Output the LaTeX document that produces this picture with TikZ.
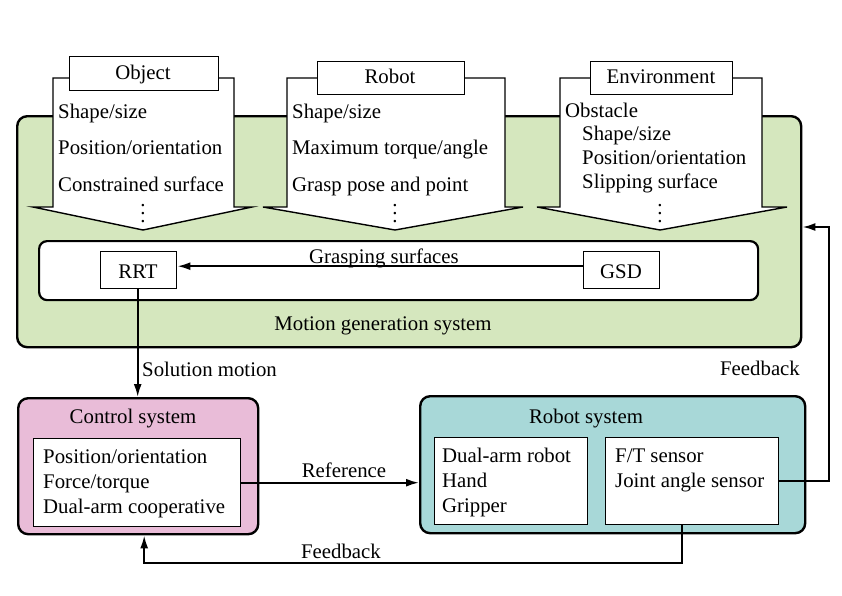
\documentclass[tikz,border=0pt]{standalone}
\usepackage{fontspec}
\setmainfont{Liberation Serif}
\usetikzlibrary{arrows.meta,calc}
\definecolor{mgreen}{RGB}{213,231,190}
\definecolor{cpink}{RGB}{233,188,216}
\definecolor{rteal}{RGB}{168,216,216}
\begin{document}
\begin{tikzpicture}[x=1pt,y=-1pt,
  every node/.style={font=\fontsize{20.8}{25}\selectfont, text=black},
  outerbox/.style={draw, line width=2.4pt, rounded corners=10pt, anchor=north west, inner sep=0pt},
  innerbox/.style={draw, line width=1.4pt, fill=white, anchor=north west, inner sep=0pt},
  arrowshape/.style={draw, line width=1.4pt, fill=white, line join=miter},
  conn/.style={line width=2pt, -{Latex[length=13pt,width=8pt]}},
  txt/.style={anchor=base west, inner sep=0pt},
  lbl/.style={anchor=base, inner sep=0pt},
  dots/.style={inner sep=0pt, align=center, font=\fontsize{20.8}{8}\selectfont}]
\useasboundingbox (0,0) rectangle (842,595);

% Motion generation system
\node[outerbox, fill=mgreen, minimum width=784pt, minimum height=231pt] (mgs) at (16,115) {};

% input arrows
\draw[arrowshape] (53,78) -- (53,207) -- (33,207) -- (143,230) -- (252,207) -- (234,207) -- (234,78) -- cycle;
\draw[arrowshape] (287,78) -- (287,207) -- (263,207) -- (395,230) -- (523,207) -- (505,207) -- (505,78) -- cycle;
\draw[arrowshape] (560,78) -- (560,207) -- (537,207) -- (660,230) -- (787,207) -- (762,207) -- (762,78) -- cycle;

\node[innerbox, minimum width=149pt, minimum height=34pt] (objbox) at (69,56) {};
\node[lbl] (objt) at (143,79) {Object};
\node[innerbox, minimum width=147pt, minimum height=33pt] (robbox) at (317,61) {};
\node[lbl] (robt) at (390,83) {Robot};
\node[innerbox, minimum width=142pt, minimum height=33pt] (envbox) at (590,61) {};
\node[lbl] (envt) at (661,83) {Environment};

\node[txt] (o1) at (58,118) {Shape/size};
\node[txt] (o2) at (58,154) {Position/orientation};
\node[txt] (o3) at (58,191) {Constrained surface};
\node[dots] (o4) at (143,214) {.\\.\\.};

\node[txt] (r1) at (292,118) {Shape/size};
\node[txt] (r2) at (292,154) {Maximum torque/angle};
\node[txt] (r3) at (292,191) {Grasp pose and point};
\node[dots] (r4) at (395,214) {.\\.\\.};

\node[txt] (e1) at (565,117) {Obstacle};
\node[txt] (e2) at (582,140) {Shape/size};
\node[txt] (e3) at (582,164) {Position/orientation};
\node[txt] (e4) at (582,188) {Slipping surface};
\node[dots] (e5) at (660,214) {.\\.\\.};

% inner white box
\node[draw, line width=2.2pt, fill=white, rounded corners=8pt, anchor=north west, inner sep=0pt, minimum width=719pt, minimum height=59pt] (gsbox) at (38,240) {};
\node[innerbox, minimum width=76pt, minimum height=37pt] (rrt) at (100,251) {};
\node[lbl] at (138,278) {RRT};
\node[innerbox, minimum width=76pt, minimum height=37pt] (gsd) at (583,251) {};
\node[lbl] at (621,278) {GSD};
\draw[conn] ([yshift=4pt]gsd.west) -- ([yshift=4pt]gsd.west -| rrt.east);
\node[lbl] (gsl) at (384,263) {Grasping surfaces};
\node[lbl] (mgsl) at (383,330) {Motion generation system};

% Control system
\node[outerbox, fill=cpink, minimum width=240pt, minimum height=136pt] (ctrl) at (17,397) {};
\node[lbl] (ctrlt) at (133,423) {Control system};
\node[innerbox, minimum width=207pt, minimum height=88pt] (ctrlin) at (33,438) {};
\node[txt] (c1) at (43,463) {Position/orientation};
\node[txt] (c2) at (43,488) {Force/torque};
\node[txt] (c3) at (43,513) {Dual-arm cooperative};

% Robot system
\node[outerbox, fill=rteal, minimum width=385pt, minimum height=137pt] (rsys) at (419,395) {};
\node[lbl] (rsyst) at (586,423) {Robot system};
\node[innerbox, minimum width=153pt, minimum height=87pt] (rleft) at (434,437) {};
\node[txt] (l1) at (442,462) {Dual-arm robot};
\node[txt] (l2) at (442,487) {Hand};
\node[txt] (l3) at (442,512) {Gripper};
\node[innerbox, minimum width=173pt, minimum height=87pt] (rright) at (605,437) {};
\node[txt] (s1) at (615,462) {F/T sensor};
\node[txt] (s2) at (615,487) {Joint angle sensor};

% connectors
\draw[conn] ([xshift=-1pt]rrt.south) -- ([xshift=-1pt]rrt.south |- ctrl.north);
\node[txt] (solm) at (142,376) {Solution motion};

\draw[conn] (ctrlin.east) -- (ctrlin.east -| rsys.west);
\node[lbl] (refl) at (344,477) {Reference};

\coordinate (fb1) at (682,563);
\draw[conn] (rright.south -| fb1) -- (fb1) -| ([xshift=6pt]ctrl.south);
\node[lbl] (fbl1) at (341,558) {Feedback};

\coordinate (fb2) at (829,227);
\draw[conn] (rright.east) -| (fb2) -- (fb2 -| mgs.east);
\node[lbl] (fbl2) at (760,375) {Feedback};
\end{tikzpicture}
\end{document}
